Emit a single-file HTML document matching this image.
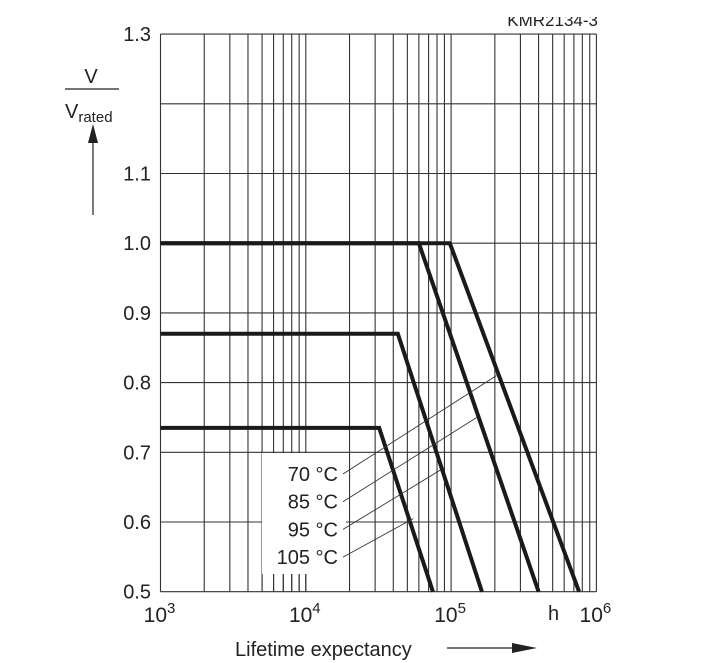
<!DOCTYPE html>
<html><head><meta charset="utf-8"><style>
html,body{margin:0;padding:0;background:#fff;}
svg{display:block;font-family:"Liberation Sans",Arial,sans-serif;}
</style></head><body>
<svg id="chart" width="717" height="663" viewBox="0 0 717 663" xmlns="http://www.w3.org/2000/svg">
<rect width="717" height="663" fill="#fff"/>
<text x="598" y="26" font-size="17" text-anchor="end" fill="#222">KMR2134-3</text>
<rect x="480" y="0" width="140" height="17" fill="#fff"/>
<g id="grid"></g>
<rect x="262" y="453" width="84" height="121" fill="#fff"/>
<g id="minorticks"></g>
<g id="curves"></g>
<g id="labels"></g>
<g fill="#222">
<text x="91" y="83" font-size="20" text-anchor="middle">V</text>
<line x1="65" y1="89" x2="119" y2="89" stroke="#222" stroke-width="1.2"/>
<text x="65" y="118" font-size="20">V<tspan font-size="15" dy="4">rated</tspan></text>
<line x1="93" y1="215" x2="93" y2="138" stroke="#222" stroke-width="1.2"/>
<polygon points="93,124 88,143 98,143"/>
</g>
<g fill="#222">
<text x="235" y="656" font-size="20">Lifetime expectancy</text>
<line x1="447" y1="648" x2="515" y2="648" stroke="#222" stroke-width="1.2"/>
<polygon points="537,648 512,643 512,653"/>
<text x="548" y="620" font-size="20">h</text>
</g>
</svg>
<script>
const yTicks=[0.5,0.6,0.7,0.8,0.9,1.0,1.1,1.2,1.3];
const yTickLabels=["0.5","0.6","0.7","0.8","0.9","1.0","1.1","","1.3"];
const xDecades=[3,4,5,6];
const seriesNames=["70 °C","85 °C","95 °C","105 °C"];
const seriesLevel=[1.0,1.0,0.87,0.735];
const seriesKneeHours=[98000,60000,43000,32000];
const seriesEndHours=[760000,400000,163000,75000];
const leaderTargetHours=[205000,150000,85000,55000];
const leaderTargetV=[0.81,0.75,0.675,0.605];

const X0=160.5,DEC=145.3,Y0=591.7,PER=697;
const xs=h=>X0+(Math.log10(h)-3)*DEC;
const ys=v=>Y0-(v-0.5)*PER;
const NS="http://www.w3.org/2000/svg";
function mk(tag,attrs,parent){const e=document.createElementNS(NS,tag);for(const k in attrs)e.setAttribute(k,attrs[k]);parent.appendChild(e);return e;}
const grid=document.getElementById('grid'),mt=document.getElementById('minorticks'),cv=document.getElementById('curves'),lb=document.getElementById('labels');
const xL=xs(1000),xR=xs(1e6);
yTicks.forEach((v,i)=>{
 const l=mk('line',{x1:xL,x2:xR,y1:ys(v),y2:ys(v),stroke:'#333','stroke-width':1.1},grid);
 
 
 if(yTickLabels[i]){const t=mk('text',{x:151,y:ys(v)+7,'font-size':20,'text-anchor':'end',fill:'#222'},lb);t.textContent=yTickLabels[i];
 
 }
});
for(let d=3;d<6;d++){for(let m=1;m<=9;m++){const h=m*Math.pow(10,d);const x=xs(h);
 const l=mk('line',{x1:x,x2:x,y1:ys(1.3),y2:ys(0.5),stroke:'#333','stroke-width':1.1},grid);
 
 
 if(x>262&&x<346){const t=mk('line',{x1:x,x2:x,y1:574,y2:ys(0.5),stroke:'#333','stroke-width':1.1},mt);
 
 }
}}
{const l=mk('line',{x1:xR,x2:xR,y1:ys(1.3),y2:ys(0.5),stroke:'#333','stroke-width':1.1},grid);
 
 }
xDecades.forEach(d=>{const t=mk('text',{x:xs(Math.pow(10,d))-1,y:622,'font-size':21,'text-anchor':'middle',fill:'#222'},lb);
 
 
 t.innerHTML='10<tspan font-size="15" dy="-9">'+d+'</tspan>';});
seriesNames.forEach((n,i)=>{
 const p=mk('polyline',{points:`${xL},${ys(seriesLevel[i])} ${xs(seriesKneeHours[i])},${ys(seriesLevel[i])} ${xs(seriesEndHours[i])},${ys(0.5)}`,fill:'none',stroke:'#1a1a1a','stroke-width':4},cv);
 
 
 const ly=474+i*27.7;
 const t=mk('text',{x:338,y:ly+7,'font-size':20,'text-anchor':'end',fill:'#222'},lb);t.textContent=n;
 
 
 const ln=mk('line',{x1:343,y1:ly,x2:xs(leaderTargetHours[i]),y2:ys(leaderTargetV[i]),stroke:'#333','stroke-width':0.9},lb);
 
 
});
</script>
</body></html>
